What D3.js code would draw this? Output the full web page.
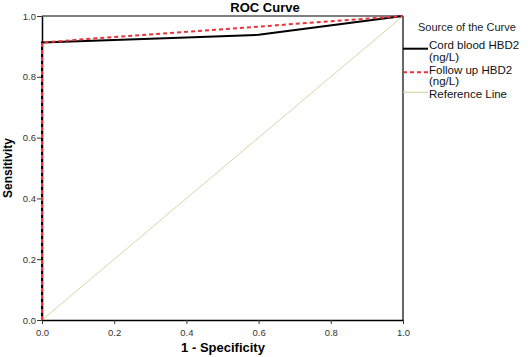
<!DOCTYPE html>
<html><head><meta charset="utf-8">
<script src="https://cdn.jsdelivr.net/npm/d3@7"></script>
<style>body{margin:0;background:#fff}svg{display:block}text{font-family:"Liberation Sans",Arial,sans-serif}</style>
</head><body>
<script>
const cordX = [0, 0, 0.2, 0.4, 0.6, 1];
const cordY = [0, 0.913, 0.921, 0.929, 0.938, 1];
const followX = [0, 0, 0.2, 0.4, 0.6, 0.8, 1];
const followY = [0, 0.913, 0.931, 0.948, 0.965, 0.983, 1];
const refX = [0, 1];
const refY = [0, 1];
const ticks = [0, 0.2, 0.4, 0.6, 0.8, 1.0];
const legendLabels = [["Cord blood HBD2", "(ng/L)"], ["Follow up HBD2", "(ng/L)"], ["Reference Line"]];

const W = 530, H = 357;
const svg = d3.select("body").append("svg").attr("width", W).attr("height", H);
const x = d3.scaleLinear().domain([0, 1]).range([42, 403]);
const y = d3.scaleLinear().domain([0, 1]).range([320, 16]);

// frame
svg.append("line").attr("x1", x(0)).attr("x2", x(1)).attr("y1", y(1)).attr("y2", y(1)).attr("stroke", "#000").attr("stroke-width", 1.2);
svg.append("line").attr("x1", x(1)).attr("x2", x(1)).attr("y1", y(1)).attr("y2", y(0)).attr("stroke", "#000").attr("stroke-width", 1.2);

const fmt = d3.format(".1f");
const xa = svg.append("g").attr("transform", `translate(0,${y(0)})`).call(d3.axisBottom(x).tickValues(ticks).tickFormat(fmt).tickSize(4).tickSizeOuter(0));
const ya = svg.append("g").attr("transform", `translate(${x(0)},0)`).call(d3.axisLeft(y).tickValues(ticks).tickFormat(fmt).tickSize(5).tickSizeOuter(0));
[xa, ya].forEach(a => {
  a.select(".domain").attr("stroke", "#000").attr("stroke-width", 1.5);
  a.selectAll(".tick line").attr("stroke", "#333");
  a.selectAll(".tick text").attr("fill", "#333").style("font-size", "9.5px").style("font-family", '"Liberation Sans",Arial,sans-serif');
});
xa.selectAll(".tick text").attr("dy", "0.9em");
ya.selectAll(".tick text").attr("x", -6);

const line = d3.line().x(d => x(d[0])).y(d => y(d[1]));
svg.append("path").datum(d3.zip(refX, refY)).attr("d", line).attr("fill", "none").attr("stroke", "#d9d4a6").attr("stroke-width", 1);
svg.append("path").datum(d3.zip(cordX, cordY)).attr("d", line).attr("fill", "none").attr("stroke", "#000").attr("stroke-width", 2);
svg.append("path").datum(d3.zip(followX, followY)).attr("d", line).attr("fill", "none").attr("stroke", "#e8333a").attr("stroke-width", 2).attr("stroke-dasharray", "4,3");

svg.append("text").attr("x", 265).attr("y", 12).attr("text-anchor", "middle").style("font-size", "13px").style("font-weight", "bold").text("ROC Curve");
svg.append("text").attr("x", 223).attr("y", 352).attr("text-anchor", "middle").style("font-size", "13px").style("font-weight", "bold").text("1 - Specificity");
svg.append("text").attr("transform", "translate(12,168) rotate(-90)").attr("text-anchor", "middle").style("font-size", "12px").style("font-weight", "bold").text("Sensitivity");

svg.append("text").attr("x", 418).attr("y", 31).style("font-size", "11px").attr("fill", "#222").text("Source of the Curve");
const legY = [48.7, 72.3, 92.3];
const textBase = [[49, 60.8], [73.6, 85], [98]];
const styles = [{c: "#000", w: 2, d: null}, {c: "#e8333a", w: 2, d: "4,3"}, {c: "#d9d4a6", w: 1.2, d: null}];
legendLabels.forEach((lab, i) => {
  svg.append("line").attr("x1", x(1)).attr("x2", 428).attr("y1", legY[i]).attr("y2", legY[i])
    .attr("stroke", styles[i].c).attr("stroke-width", styles[i].w).attr("stroke-dasharray", styles[i].d);
  lab.forEach((t, j) => {
    svg.append("text").attr("x", 429).attr("y", textBase[i][j]).style("font-size", "11.5px").attr("fill", "#111").text(t);
  });
});
</script>
</body></html>
